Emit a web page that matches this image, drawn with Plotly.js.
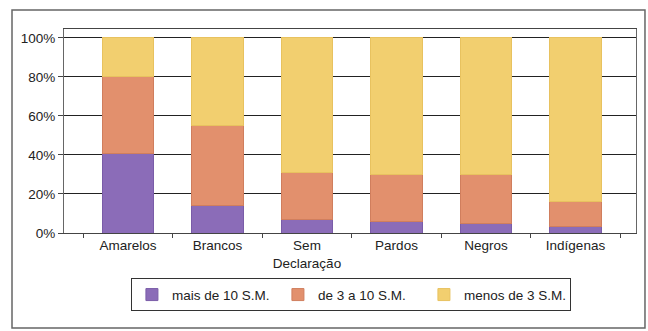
<!DOCTYPE html>
<html>
<head>
<meta charset="utf-8">
<script src="https://cdn.plot.ly/plotly-3.0.1.min.js"></script>
<style>html,body{margin:0;padding:0;background:#fff;}#chart{width:648px;height:331px;}</style>
</head>
<body>
<div id="chart"></div>
<script>
const categories = ["Amarelos", "Brancos", "Sem<br>Declaração", "Pardos", "Negros", "Indígenas"];
const seriesNames = ["mais de 10 S.M.", "de 3 a 10 S.M.", "menos de 3 S.M."];
const maisDe10 = [41, 14, 7, 6, 5, 3.5];
const de3a10 = [39, 41, 24, 24, 25, 12.5];
const menosDe3 = [20, 45, 69, 70, 70, 84];
const yTickVals = [0, 20, 40, 60, 80, 100];
const yTickText = ["0%", "20%", "40%", "60%", "80%", "100%"];

const fills = ["#8b6cb8", "#e2906d", "#f2cf6f"];
const edges = ["#7a5ca8", "#d07e5d", "#e8c25f"];
const values = [maisDe10, de3a10, menosDe3];

const traces = values.map((v, i) => ({
  type: "bar",
  x: categories,
  y: v,
  name: seriesNames[i],
  width: 0.58,
  marker: {color: fills[i], line: {color: edges[i], width: 1}},
  hoverinfo: "none"
}));

const layout = {
  width: 648, height: 331,
  margin: {l: 64, r: 12, t: 29, b: 98},
  barmode: "stack",
  paper_bgcolor: "#fff",
  plot_bgcolor: "#fff",
  font: {family: "Liberation Sans, Arial, sans-serif", size: 13.5, color: "#222"},
  showlegend: true,
  legend: {
    orientation: "h",
    x: 0.117, xanchor: "left",
    y: -0.222, yanchor: "top",
    bordercolor: "#333", borderwidth: 1,
    font: {size: 13.5, color: "#222"},
    entrywidth: 101, entrywidthmode: "pixels",
    itemwidth: 30,
    traceorder: "normal"
  },
  xaxis: {
    type: "category",
    range: [-0.715, 5.676],
    showline: true, linecolor: "#444", linewidth: 1, mirror: true,
    ticks: "outside", tickson: "boundaries", ticklen: 4, tickcolor: "#444",
    showgrid: false,
    tickfont: {size: 13.5},
    fixedrange: true
  },
  yaxis: {
    range: [0, 104.6],
    tickvals: yTickVals, ticktext: yTickText,
    showline: true, linecolor: "#666", linewidth: 1, mirror: true,
    ticks: "outside", ticklen: 5, tickcolor: "#444",
    showgrid: true, gridcolor: "#222", gridwidth: 1,
    zeroline: false,
    tickfont: {size: 13.5},
    fixedrange: true
  },
  shapes: [{
    type: "rect", xref: "paper", yref: "paper",
    x0: -0.0909, x1: 1.0157, y0: -0.4657, y1: 1.093,
    line: {color: "#666", width: 1.5}, fillcolor: "rgba(0,0,0,0)", layer: "below"
  }]
};

Plotly.newPlot("chart", traces, layout, {displayModeBar: false, staticPlot: true});
</script>
</body>
</html>
